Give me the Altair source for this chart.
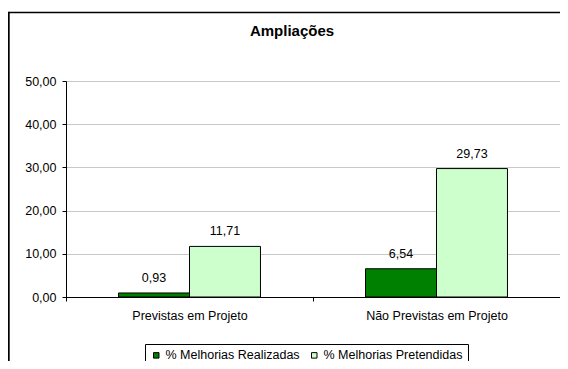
import altair as alt
import pandas as pd

categories = ["Previstas em Projeto", "Não Previstas em Projeto"]
series = ["% Melhorias Realizadas", "% Melhorias Pretendidas"]
realizadas = [0.93, 6.54]
pretendidas = [11.71, 29.73]
y_ticks = [0, 10, 20, 30, 40, 50]
colors = ["#008000", "#CCFFCC"]

rows = []
for i, c in enumerate(categories):
    rows.append({"cat": c, "serie": series[0], "v": realizadas[i], "ord": 0})
    rows.append({"cat": c, "serie": series[1], "v": pretendidas[i], "ord": 1})
df = pd.DataFrame(rows)

FONT = "Liberation Sans"

x_enc = alt.X("cat:N", sort=categories, title=None,
              scale=alt.Scale(paddingInner=0, paddingOuter=0),
              axis=alt.Axis(labelAngle=0, tickBand="extent", tickSize=4, tickColor="black",
                            domainColor="black", labelPadding=8, labelFontSize=12.5,
                            labelFont=FONT, labelColor="black", grid=False))
xoff = alt.XOffset("serie:N", sort=series,
                   scale=alt.Scale(paddingInner=0, paddingOuter=0.74))
y_enc = alt.Y("v:Q", title=None,
              scale=alt.Scale(domain=[0, 50], nice=False),
              axis=alt.Axis(values=y_ticks, tickSize=4, tickColor="black", domainColor="black",
                            labelExpr="replace(format(datum.value, '.2f'), '.', ',')",
                            labelFontSize=12.5, labelFont=FONT, labelColor="black",
                            labelPadding=6, gridColor="#c8c8c8", gridWidth=1))

bars = alt.Chart(df).mark_bar(stroke="black", strokeWidth=1).encode(
    x=x_enc, xOffset=xoff, y=y_enc,
    color=alt.Color("serie:N", sort=series,
                    scale=alt.Scale(domain=series, range=colors),
                    legend=alt.Legend(title=None, orient="none", legendX=79, legendY=263,
                                      direction="horizontal", strokeColor="black",
                                      fillColor="white", padding=5,
                                      symbolType="square", symbolSize=30,
                                      symbolStrokeColor="black", symbolStrokeWidth=1,
                                      labelFontSize=12.5, labelFont=FONT, labelColor="black",
                                      labelOffset=3, columnPadding=8)),
)

labels = alt.Chart(df).transform_calculate(
    lbl="replace(format(datum.v, '.2f'), '.', ',')"
).mark_text(baseline="alphabetic", dy=-11, fontSize=12.5, font=FONT, color="black").encode(
    x=alt.X("cat:N", sort=categories), xOffset=alt.XOffset("serie:N", sort=series),
    y="v:Q", text="lbl:N",
)

frame_top = alt.Chart(pd.DataFrame({"a": [0]})).mark_rule(
    color="black", strokeWidth=1.6
).encode(x=alt.value(-57.2), x2=alt.value(494), y=alt.value(-68.5))
frame_left = alt.Chart(pd.DataFrame({"a": [0]})).mark_rule(
    color="black", strokeWidth=1.8
).encode(x=alt.value(-57.2), y=alt.value(-69.3), y2=alt.value(320))

chart = alt.layer(frame_top, frame_left, bars, labels).properties(
    width=494, height=216,
    autosize=alt.AutoSizeParams(type="none"),
    padding={"left": 58, "top": 73, "right": 0, "bottom": 64},
    title=alt.TitleParams("Ampliações", fontSize=15, fontWeight="bold", font=FONT,
                          anchor="middle", frame="group", dx=-21, offset=-40,
                          baseline="alphabetic", color="black"),
).configure_view(strokeWidth=0).configure(background="white")

chart.save("out.html", embed_options={"renderer": "svg", "actions": False})
